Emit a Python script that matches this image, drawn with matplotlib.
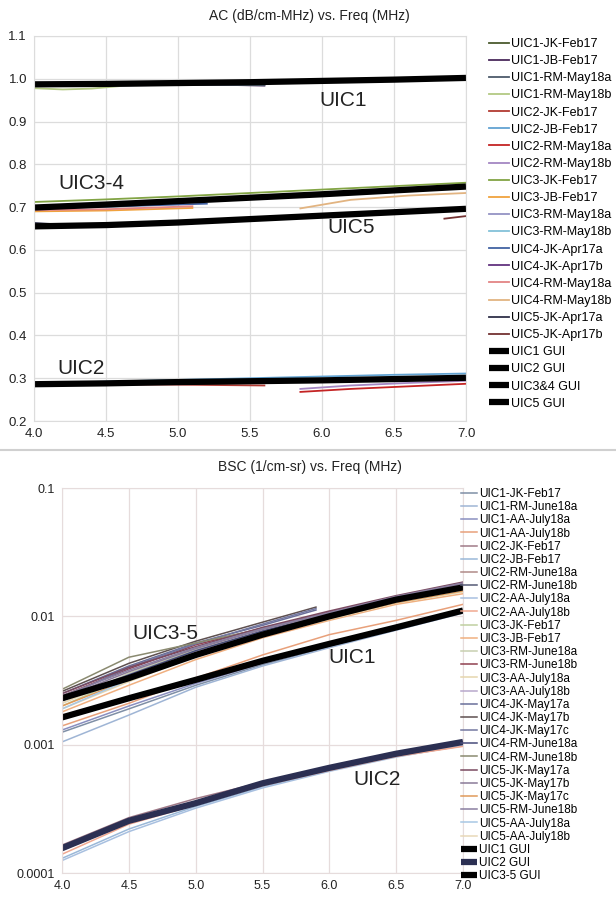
import matplotlib
matplotlib.use('Agg')
import matplotlib.pyplot as plt
from matplotlib.lines import Line2D
from matplotlib.ticker import FixedLocator, FixedFormatter

plt.rcParams['font.family'] = ['Liberation Sans', 'DejaVu Sans']

################### DATA: AC (top chart) ###################
ac_labels = ['UIC1-JK-Feb17', 'UIC1-JB-Feb17', 'UIC1-RM-May18a', 'UIC1-RM-May18b',
             'UIC2-JK-Feb17', 'UIC2-JB-Feb17', 'UIC2-RM-May18a', 'UIC2-RM-May18b',
             'UIC3-JK-Feb17', 'UIC3-JB-Feb17', 'UIC3-RM-May18a', 'UIC3-RM-May18b',
             'UIC4-JK-Apr17a', 'UIC4-JK-Apr17b', 'UIC4-RM-May18a', 'UIC4-RM-May18b',
             'UIC5-JK-Apr17a', 'UIC5-JK-Apr17b']
ac_freq = [[4.0, 4.5, 5.0, 5.5],
           [4.6, 5.0, 5.3, 5.6],
           [4.5, 5.0, 5.6],
           [4.0, 4.2, 4.4, 4.6],
           [4.0, 4.5, 5.0, 5.6],
           [4.0, 4.5, 5.0, 5.5, 6.0, 6.5, 7.0],
           [5.85, 6.2, 6.6, 7.0],
           [5.85, 6.2, 6.6, 7.0],
           [4.0, 4.5, 5.0, 5.5, 6.0, 6.5, 7.0],
           [4.0, 4.5, 5.1],
           [4.0, 4.5, 5.0, 5.5, 6.0, 6.5, 7.0],
           [4.0, 4.5, 5.0, 5.5, 6.0, 6.5, 7.0],
           [4.0, 4.5, 5.2],
           [4.0, 4.5, 5.0],
           [4.0, 4.5, 5.1],
           [5.85, 6.2, 6.6, 7.0],
           [4.0, 4.3, 4.7, 5.1],
           [6.85, 7.0]]
ac_vals = [[0.990, 0.990, 0.992, 0.993],
           [0.985, 0.986, 0.986, 0.984],
           [0.984, 0.986, 0.985],
           [0.978, 0.975, 0.977, 0.983],
           [0.287, 0.286, 0.285, 0.283],
           [0.288, 0.292, 0.296, 0.300, 0.304, 0.308, 0.311],
           [0.268, 0.275, 0.281, 0.287],
           [0.275, 0.283, 0.289, 0.294],
           [0.712, 0.718, 0.725, 0.733, 0.741, 0.749, 0.757],
           [0.690, 0.692, 0.698],
           [0.701, 0.707, 0.715, 0.723, 0.731, 0.740, 0.749],
           [0.697, 0.704, 0.712, 0.720, 0.728, 0.737, 0.746],
           [0.697, 0.701, 0.708],
           [0.699, 0.704, 0.711],
           [0.693, 0.695, 0.702],
           [0.697, 0.717, 0.727, 0.733],
           [0.663, 0.657, 0.660, 0.662],
           [0.673, 0.679]]

ac_gui_labels = ['UIC1 GUI', 'UIC2 GUI', 'UIC3&4 GUI', 'UIC5 GUI']
ac_gui_freq = [4.0, 4.5, 5.0, 5.5, 6.0, 6.5, 7.0]
ac_gui_vals = [[0.987, 0.988, 0.990, 0.992, 0.995, 0.998, 1.002],
               [0.286, 0.288, 0.291, 0.293, 0.295, 0.298, 0.301],
               [0.699, 0.706, 0.714, 0.722, 0.730, 0.739, 0.748],
               [0.655, 0.658, 0.664, 0.672, 0.680, 0.688, 0.696]]

################### DATA: BSC (bottom chart) ###################
bsc_labels = ['UIC1-JK-Feb17', 'UIC1-RM-June18a', 'UIC1-AA-July18a', 'UIC1-AA-July18b',
              'UIC2-JK-Feb17', 'UIC2-JB-Feb17', 'UIC2-RM-June18a', 'UIC2-RM-June18b',
              'UIC2-AA-July18a', 'UIC2-AA-July18b', 'UIC3-JK-Feb17', 'UIC3-JB-Feb17',
              'UIC3-RM-June18a', 'UIC3-RM-June18b', 'UIC3-AA-July18a', 'UIC3-AA-July18b',
              'UIC4-JK-May17a', 'UIC4-JK-May17b', 'UIC4-JK-May17c', 'UIC4-RM-June18a',
              'UIC4-RM-June18b', 'UIC5-JK-May17a', 'UIC5-JK-May17b', 'UIC5-JK-May17c',
              'UIC5-RM-June18b', 'UIC5-AA-July18a', 'UIC5-AA-July18b']
bsc_freq_full = [4.0, 4.5, 5.0, 5.5, 6.0, 6.5, 7.0]
bsc_freq_short = [4.0, 4.5, 5.0, 5.5, 5.9]
bsc_vals = [[0.00125, 0.0019, 0.0029, 0.0042, 0.0058, 0.0079, 0.0108],
            [0.00105, 0.0017, 0.0028, 0.0041, 0.0057, 0.0078, 0.0106],
            [0.0013, 0.0020, 0.0030, 0.0043, 0.0059, 0.0080, 0.0110],
            [0.0014, 0.0021, 0.0033, 0.0050, 0.0072, 0.0093, 0.0124],
            [0.000165, 0.00027, 0.00038, 0.00051, 0.00067, 0.00084, 0.00102],
            [0.00013, 0.00022, 0.00033, 0.00047, 0.00063, 0.00082, 0.00100],
            [0.00015, 0.00025, 0.00036, 0.00049, 0.00064, 0.00081, 0.00098],
            [0.000155, 0.00026, 0.00035, 0.00050, 0.00067, 0.00086, 0.00106],
            [0.000125, 0.00021, 0.00032, 0.00046, 0.00062, 0.00080, 0.00099],
            [0.00014, 0.00024, 0.00034, 0.00048, 0.00063, 0.00081, 0.00097],
            [0.0020, 0.0034, 0.0052, 0.0074, 0.0098, 0.0130, 0.0160],
            [0.0018, 0.0029, 0.0046, 0.0068, 0.0093, 0.0124, 0.0150],
            [0.0021, 0.0036, 0.0055, 0.0076, 0.0101, 0.0133, 0.0163],
            [0.0024, 0.0039, 0.0060, 0.0081, 0.0108, 0.0142, 0.0180],
            [0.0019, 0.0031, 0.0049, 0.0071, 0.0095, 0.0127, 0.0155],
            [0.0022, 0.0035, 0.0053, 0.0075, 0.0100, 0.0133, 0.0165],
            [0.0025, 0.0041, 0.0062, 0.0085, 0.0112],
            [0.0026, 0.0043, 0.0064, 0.0090, 0.0118],
            [0.0023, 0.0040, 0.0061, 0.0087, 0.0115],
            [0.0022, 0.0035, 0.0054, 0.0077, 0.0104, 0.0138, 0.0172],
            [0.0027, 0.0048, 0.0062, 0.0080, 0.0105, 0.0140, 0.0175],
            [0.0025, 0.0040, 0.0058, 0.0082, 0.0110, 0.0145, 0.0185],
            [0.0023, 0.0037, 0.0056, 0.0079, 0.0106, 0.0141, 0.0178],
            [0.0020, 0.0032, 0.0050, 0.0072, 0.0097, 0.0128, 0.0158],
            [0.0024, 0.0038, 0.0057, 0.0080, 0.0107, 0.0143, 0.0182],
            [0.0019, 0.0032, 0.0050, 0.0073, 0.0098, 0.0130, 0.0162],
            [0.0021, 0.0034, 0.0052, 0.0074, 0.0099, 0.0131, 0.0161]]

bsc_gui_labels = ['UIC1 GUI', 'UIC2 GUI', 'UIC3-5 GUI']
bsc_gui_vals = [[0.00163, 0.0023, 0.0032, 0.0045, 0.0061, 0.0082, 0.0111],
                [0.000156, 0.000255, 0.00035, 0.0005, 0.00066, 0.00085, 0.00105],
                [0.0023, 0.0033, 0.0050, 0.0072, 0.0100, 0.0135, 0.0168]]

ac_ticks = [0.2, 0.3, 0.4, 0.5, 0.6, 0.7, 0.8, 0.9, 1.0, 1.1]
bsc_ticks = [0.0001, 0.001, 0.01, 0.1]
bsc_tick_labels = ['0.0001', '0.001', '0.01', '0.1']
x_ticks = [4.0, 4.5, 5.0, 5.5, 6.0, 6.5, 7.0]
############## END: DATA ###################

# styles
ac_colors = ['#4b5a2e', '#4a2a5c', '#4d5b6b', '#b3c983', '#b23a32', '#62a3d2',
             '#c42424', '#a487c3', '#82a444', '#f0a23e', '#9493c4', '#84c2d9',
             '#4263a3', '#62337f', '#e38585', '#e2b481', '#2f3049', '#733232']
bsc_colors = ['#7f8fa6', '#9fb5d5', '#8a8fc0', '#e8a07a', '#a07a88', '#9ab8d8',
              '#b08a88', '#555a75', '#a8c0e0', '#f0a890', '#c0d0a0', '#f0b080',
              '#c8d0b0', '#904050', '#e6d6ae', '#b8a8cc', '#6a6f9a', '#5e5050',
              '#7478a0', '#484c7a', '#8a8a70', '#7a4a60', '#8a7a98', '#e09a5a',
              '#8a7fa0', '#a8c8e4', '#e8d8b8']
bsc_gui_colors = ['black', '#2b2f52', 'black']
grid_col = '#dcdcdc'
grid_col2 = '#e6dcdc'

fig = plt.figure(figsize=(6.16, 9), dpi=100)

# ---------- top chart ----------
ax1 = fig.add_axes([34 / 616, 1 - 421 / 900, 432 / 616, 385 / 900])
for lab, fx, fy, c in zip(ac_labels, ac_freq, ac_vals, ac_colors):
    ax1.plot(fx, fy, color=c, lw=1.3, label=lab)
for lab, fy in zip(ac_gui_labels, ac_gui_vals):
    ax1.plot(ac_gui_freq, fy, color='black', lw=4.5, label=lab, solid_capstyle='butt')
ax1.set_xlim(4.0, 7.0)
ax1.set_ylim(0.2, 1.1)
ax1.set_xticks(x_ticks)
ax1.set_xticklabels(['%.1f' % v for v in x_ticks])
ax1.set_yticks(ac_ticks)
ax1.set_yticklabels(['%.1f' % v for v in ac_ticks])
ax1.grid(True, color=grid_col, lw=0.9)
ax1.set_axisbelow(True)
for sp in ax1.spines.values():
    sp.set_color(grid_col)
ax1.tick_params(length=0, labelsize=9.5, colors='#222222', pad=5)
ax1.text(6.15, 0.950, 'UIC1', fontsize=15, ha='center', va='center', color='#222222')
ax1.text(4.4, 0.756, 'UIC3-4', fontsize=15, ha='center', va='center', color='#222222')
ax1.text(6.2, 0.652, 'UIC5', fontsize=15, ha='center', va='center', color='#222222')
ax1.text(4.33, 0.322, 'UIC2', fontsize=15, ha='center', va='center', color='#222222')
fig.text(0.503, 1 - 16 / 900, 'AC (dB/cm-MHz) vs. Freq (MHz)', ha='center', va='center',
         fontsize=10, color='#222222')
leg1 = ax1.legend(loc='upper left', bbox_to_anchor=(489 / 616, 1 - 38 / 900),
                  bbox_transform=fig.transFigure, frameon=False, fontsize=9,
                  handlelength=1.6, handletextpad=0.15, labelspacing=0.41,
                  borderpad=0, borderaxespad=0)

# separator between the two charts
fig.add_artist(Line2D([0, 1], [0.5, 0.5], color='#d0d0d0', lw=1.5))

# ---------- bottom chart ----------
ax2 = fig.add_axes([62 / 616, 1 - 873 / 900, 401 / 616, 385 / 900])
for lab, fy, c in zip(bsc_labels, bsc_vals, bsc_colors):
    fx = bsc_freq_full if len(fy) == len(bsc_freq_full) else bsc_freq_short
    ax2.plot(fx, fy, color=c, lw=1.1, label=lab)
for lab, fy, c in zip(bsc_gui_labels, bsc_gui_vals, bsc_gui_colors):
    ax2.plot(bsc_freq_full, fy, color=c, lw=4.5, label=lab, solid_capstyle='butt')
ax2.set_yscale('log')
ax2.set_xlim(4.0, 7.0)
ax2.set_ylim(0.0001, 0.1)
ax2.set_xticks(x_ticks)
ax2.set_xticklabels(['%.1f' % v for v in x_ticks])
ax2.yaxis.set_major_locator(FixedLocator(bsc_ticks))
ax2.yaxis.set_major_formatter(FixedFormatter(bsc_tick_labels))
ax2.yaxis.set_minor_locator(FixedLocator([]))
ax2.grid(True, color=grid_col2, lw=0.9)
ax2.set_axisbelow(True)
for sp in ax2.spines.values():
    sp.set_color(grid_col2)
ax2.tick_params(length=0, labelsize=9, colors='#222222', pad=5)
ax2.text(4.77, 0.0074, 'UIC3-5', fontsize=15, ha='center', va='center', color='#222222')
ax2.text(6.17, 0.0048, 'UIC1', fontsize=15, ha='center', va='center', color='#222222')
ax2.text(6.36, 0.00054, 'UIC2', fontsize=15, ha='center', va='center', color='#222222')
fig.text(0.503, 1 - 467 / 900, 'BSC (1/cm-sr) vs. Freq (MHz)', ha='center', va='center',
         fontsize=10, color='#222222')
leg2 = ax2.legend(loc='upper left', bbox_to_anchor=(461 / 616, 1 - 488 / 900),
                  bbox_transform=fig.transFigure, frameon=False, fontsize=8.5,
                  handlelength=1.35, handletextpad=0.2, labelspacing=0.1,
                  borderpad=0, borderaxespad=0)

fig.savefig('out.png', dpi=100)
